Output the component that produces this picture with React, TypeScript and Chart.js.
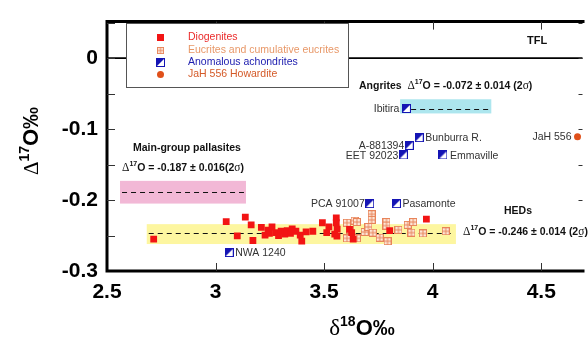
import React, { useEffect, useRef } from 'react';
import { Chart, registerables } from 'chart.js';
Chart.register(...registerables);

const diogenites: [number, number][] = [
  [2.715, -0.255], [3.049, -0.2305], [3.1, -0.2505], [3.137, -0.224], [3.164, -0.235], [3.172, -0.257],
  [3.211, -0.2386], [3.228, -0.2495], [3.242, -0.2423], [3.248, -0.247], [3.26, -0.238], [3.277, -0.246],
  [3.29, -0.25], [3.302, -0.244], [3.319, -0.248], [3.33, -0.243], [3.345, -0.247], [3.353, -0.2405],
  [3.37, -0.244], [3.39, -0.2495], [3.397, -0.258], [3.417, -0.245], [3.448, -0.244], [3.492, -0.232],
  [3.512, -0.246], [3.522, -0.2377], [3.549, -0.248], [3.556, -0.225], [3.556, -0.232], [3.56, -0.241],
  [3.559, -0.251], [3.617, -0.2414], [3.627, -0.246], [3.634, -0.255], [3.802, -0.243], [3.971, -0.2268],
];
const eucrites: [number, number][] = [
  [3.605, -0.232], [3.618, -0.242], [3.64, -0.229], [3.651, -0.231], [3.605, -0.254], [3.651, -0.254],
  [3.687, -0.245], [3.704, -0.238], [3.719, -0.22], [3.719, -0.228], [3.724, -0.246], [3.756, -0.253],
  [3.787, -0.231], [3.787, -0.236], [3.792, -0.258], [3.842, -0.242], [3.885, -0.235], [3.91, -0.231],
  [3.902, -0.246], [3.955, -0.247], [4.06, -0.244],
];
const anomalousNames = ['Ibitira', 'Bunburra R.', 'A-881394', 'EET 92023', 'Emmaville', 'PCA 91007', 'Pasamonte', 'NWA 1240'];
const anomalousX = [3.879, 3.938, 3.892, 3.865, 4.047, 3.71, 3.833, 3.063];
const anomalousY = [-0.071, -0.112, -0.123, -0.1365, -0.1365, -0.205, -0.205, -0.274];
const howarditeName = 'JaH 556';
const howardite: [number, number][] = [[4.667, -0.111]];
const xTicks = [2.5, 3, 3.5, 4, 4.5];
const xTickLabels = ['2.5', '3', '3.5', '4', '4.5'];
const yTicks = [0, -0.1, -0.2, -0.3];
const yTickLabels = ['0', '-0.1', '-0.2', '-0.3'];
const yMinorTicks = [0.05, 0, -0.05, -0.1, -0.15, -0.2, -0.25];
// bands: [xStart, xEnd, yLow, yHigh, yMean]
const angriteBand = [3.85, 4.27, -0.078, -0.058, -0.0715];
const pallasiteBand = [2.56, 3.14, -0.205, -0.173, -0.189];
const hedBand = [2.683, 4.107, -0.262, -0.234, -0.246];

const SANS = '"Liberation Sans", Arial, sans-serif';
const SERIF = '"Liberation Serif", "Times New Roman", serif';

function makeEucriteMarker() {
  const c = document.createElement('canvas');
  c.width = 8; c.height = 8;
  const g = c.getContext('2d')!;
  g.fillStyle = '#fde6d8';
  g.fillRect(0, 0, 8, 8);
  g.strokeStyle = '#e8845a';
  g.lineWidth = 1;
  g.strokeRect(0.5, 0.5, 7, 7);
  g.beginPath();
  g.moveTo(4, 0.5); g.lineTo(4, 7.5);
  g.moveTo(0.5, 4); g.lineTo(7.5, 4);
  g.stroke();
  return c;
}
function makeAnomMarker() {
  const c = document.createElement('canvas');
  c.width = 9; c.height = 9;
  const g = c.getContext('2d')!;
  g.fillStyle = '#ffffff';
  g.fillRect(0, 0, 9, 9);
  g.fillStyle = '#1414b4';
  g.beginPath();
  g.moveTo(0, 0); g.lineTo(9, 0); g.lineTo(0, 9); g.closePath();
  g.fill();
  g.strokeStyle = '#1414b4';
  g.lineWidth = 1;
  g.strokeRect(0.5, 0.5, 8, 8);
  return c;
}

type Part = { t: string; f: string; dy?: number };
function rich(ctx: CanvasRenderingContext2D, x: number, y: number, parts: Part[], align: 'left' | 'right' | 'center' = 'left') {
  let w = 0;
  for (const p of parts) { ctx.font = p.f; w += ctx.measureText(p.t).width; }
  let cx = align === 'left' ? x : align === 'right' ? x - w : x - w / 2;
  ctx.textAlign = 'left';
  for (const p of parts) {
    ctx.font = p.f;
    ctx.fillText(p.t, cx, y + (p.dy || 0));
    cx += ctx.measureText(p.t).width;
  }
}

function d17(prefix: string, rest: string, size = 10.5): Part[] {
  const b = `bold ${size}px ${SANS}`;
  const parts: Part[] = [];
  if (prefix) parts.push({ t: prefix, f: b });
  parts.push({ t: 'Δ', f: `${size + 1}px ${SERIF}` });
  parts.push({ t: '17', f: `bold ${size - 3.5}px ${SANS}`, dy: -4 });
  parts.push({ t: 'O = ' + rest + '(2', f: b });
  parts.push({ t: 'σ', f: `${size + 1}px ${SERIF}` });
  parts.push({ t: ')', f: b });
  return parts;
}

export default function App() {
  const ref = useRef<HTMLCanvasElement>(null);
  useEffect(() => {
    const eucM = makeEucriteMarker();
    const anoM = makeAnomMarker();
    const plugin = {
      id: 'decor',
      beforeDatasetsDraw(chart: any) {
        const { ctx, chartArea: a, scales } = chart;
        const xs = scales.x, ys = scales.y;
        ctx.save();
        const band = (b: number[], color: string) => {
          const x0 = xs.getPixelForValue(b[0]), x1 = xs.getPixelForValue(b[1]);
          const y0 = ys.getPixelForValue(b[3]), y1 = ys.getPixelForValue(b[2]);
          ctx.fillStyle = color;
          ctx.fillRect(x0, y0, x1 - x0, y1 - y0);
        };
        band(angriteBand, '#ade6ee');
        band(pallasiteBand, '#f2b8d6');
        band(hedBand, '#fdf6a0');
        const dash = (b: number[]) => {
          const y = Math.round(ys.getPixelForValue(b[4])) + 0.5;
          ctx.beginPath();
          ctx.setLineDash([5, 4]);
          ctx.strokeStyle = '#111';
          ctx.lineWidth = 1.2;
          ctx.moveTo(xs.getPixelForValue(b[0]) + 2, y);
          ctx.lineTo(xs.getPixelForValue(b[1]) - 2, y);
          ctx.stroke();
        };
        dash(angriteBand); dash(pallasiteBand); dash(hedBand);
        ctx.setLineDash([]);
        // TFL line
        const y0 = ys.getPixelForValue(0);
        ctx.strokeStyle = '#000';
        ctx.lineWidth = 1.6;
        ctx.beginPath(); ctx.moveTo(a.left, y0); ctx.lineTo(a.right, y0); ctx.stroke();
        ctx.restore();
      },
      afterDatasetsDraw(chart: any) {
        const { ctx, chartArea: a, scales } = chart;
        const xs = scales.x, ys = scales.y;
        ctx.save();
        // frame
        ctx.strokeStyle = '#000';
        ctx.lineWidth = 3;
        ctx.beginPath();
        ctx.moveTo(a.right + 2, a.top); ctx.lineTo(a.left, a.top); ctx.lineTo(a.left, a.bottom); ctx.lineTo(a.right + 2, a.bottom);
        ctx.stroke();
        ctx.lineWidth = 1;
        ctx.strokeStyle = '#333';
        ctx.beginPath();
        for (const v of yMinorTicks) {
          const y = Math.round(ys.getPixelForValue(v)) + 0.5;
          ctx.moveTo(a.left, y); ctx.lineTo(a.left + 8, y);
          ctx.moveTo(a.right - 4, y); ctx.lineTo(a.right, y);
        }
        for (const v of xTicks.slice(1)) {
          const x = Math.round(xs.getPixelForValue(v)) + 0.5;
          ctx.moveTo(x, a.top); ctx.lineTo(x, a.top + 8);
          ctx.moveTo(x, a.bottom); ctx.lineTo(x, a.bottom - 8);
        }
        ctx.stroke();

        ctx.textBaseline = 'middle';
        // legend
        const lx0 = 126, ly0 = 23, lx1 = 348, ly1 = 87;
        ctx.fillStyle = '#fff';
        ctx.fillRect(lx0, ly0, lx1 - lx0, ly1 - ly0);
        ctx.strokeStyle = '#555';
        ctx.lineWidth = 1;
        ctx.strokeRect(lx0 + 0.5, ly0 + 0.5, lx1 - lx0, ly1 - ly0);
        const rows = [
          { t: 'Diogenites', c: '#ea2a2a', y: 37 },
          { t: 'Eucrites and cumulative eucrites', c: '#e89868', y: 50 },
          { t: 'Anomalous achondrites', c: '#2020b0', y: 62 },
          { t: 'JaH 556 Howardite', c: '#d45a28', y: 74 },
        ];
        ctx.font = `10.5px ${SANS}`;
        rows.forEach((r, i) => {
          ctx.fillStyle = r.c;
          ctx.textAlign = 'left';
          ctx.fillText(r.t, 188, r.y);
          const mx = 160;
          if (i === 0) { ctx.fillStyle = '#f21414'; ctx.fillRect(mx - 3, r.y - 3, 7, 7); }
          if (i === 1) ctx.drawImage(eucM, mx - 3, r.y - 3, 7, 7);
          if (i === 2) ctx.drawImage(anoM, mx - 4, r.y - 4, 9, 9);
          if (i === 3) { ctx.fillStyle = '#e0501a'; ctx.beginPath(); ctx.arc(mx + 0.5, r.y + 0.5, 3.5, 0, Math.PI * 2); ctx.fill(); }
        });

        // point labels
        ctx.fillStyle = '#333';
        ctx.font = `10.5px ${SANS}`;
        const sides: Record<string, number> = {
          'Ibitira': -7, 'Bunburra R.': 6, 'A-881394': -5, 'EET 92023': -5, 'Emmaville': 7,
          'PCA 91007': -5, 'Pasamonte': 6, 'NWA 1240': 6,
        };
        anomalousNames.forEach((n, i) => {
          const px = xs.getPixelForValue(anomalousX[i]);
          const py = ys.getPixelForValue(anomalousY[i]);
          const off = sides[n];
          ctx.textAlign = off < 0 ? 'right' : 'left';
          ctx.fillText(n, px + off, py + 1);
        });
        {
          const px = xs.getPixelForValue(howardite[0][0]);
          const py = ys.getPixelForValue(howardite[0][1]);
          ctx.textAlign = 'right';
          ctx.fillText(howarditeName, px - 6, py);
        }

        // annotations
        ctx.fillStyle = '#111';
        ctx.textAlign = 'left';
        ctx.font = `bold 11px ${SANS}`;
        ctx.fillText('TFL', 527, 41);
        rich(ctx, 359, 86, d17('Angrites  ', '-0.072 ± 0.014 '));
        ctx.font = `bold 10.5px ${SANS}`;
        ctx.fillText('Main-group pallasites', 133, 148);
        rich(ctx, 122, 168, d17('', '-0.187 ± 0.016'));
        ctx.font = `bold 10.5px ${SANS}`;
        ctx.fillText('HEDs', 504, 211);
        rich(ctx, 463, 232, d17('', '-0.246 ± 0.014 '));

        // axis titles
        ctx.fillStyle = '#000';
        ctx.textBaseline = 'alphabetic';
        rich(ctx, 362, 335, [
          { t: 'δ', f: `23px ${SERIF}` },
          { t: '18', f: `bold 14px ${SANS}`, dy: -9 },
          { t: 'O‰', f: `bold 22px ${SANS}` },
        ], 'center');
        ctx.save();
        ctx.translate(38, 141);
        ctx.rotate(-Math.PI / 2);
        rich(ctx, 0, 0, [
          { t: 'Δ', f: `21px ${SERIF}` },
          { t: '17', f: `bold 14px ${SANS}`, dy: -9 },
          { t: 'O‰', f: `bold 22px ${SANS}` },
        ], 'center');
        ctx.restore();
        ctx.restore();
      },
    };

    const chart = new Chart(ref.current!, {
      type: 'scatter',
      data: {
        datasets: [
          {
            label: 'Diogenites',
            data: diogenites.map(([x, y]) => ({ x, y })),
            pointStyle: 'rect', pointRadius: 4.8, backgroundColor: '#f21414', borderColor: '#f21414', borderWidth: 0,
          },
          {
            label: 'Eucrites and cumulative eucrites',
            data: eucrites.map(([x, y]) => ({ x, y })),
            pointStyle: eucM as any, pointRadius: 4,
          },
          {
            label: 'Anomalous achondrites',
            data: anomalousX.map((x, i) => ({ x, y: anomalousY[i] })),
            pointStyle: anoM as any, pointRadius: 4.5,
          },
          {
            label: 'JaH 556 Howardite',
            data: howardite.map(([x, y]) => ({ x, y })),
            pointStyle: 'circle', pointRadius: 3.5, backgroundColor: '#e0501a', borderColor: '#e0501a', borderWidth: 0,
          },
        ],
      },
      options: {
        responsive: false,
        animation: false,
        devicePixelRatio: 1,
        layout: { padding: { top: 11, right: 0, left: 0, bottom: 0 } },
        plugins: { legend: { display: false }, tooltip: { enabled: false } },
        scales: {
          x: {
            type: 'linear', min: 2.5, max: 4.69,
            grid: { display: false, drawTicks: false }, border: { display: false },
            ticks: {
              color: '#000', padding: 9, font: { family: SANS, size: 21, weight: 'bold' },
              callback: (v: any) => { const i = xTicks.indexOf(Number(v)); return i >= 0 ? xTickLabels[i] : ''; },
            },
            afterBuildTicks: (s: any) => { s.ticks = xTicks.map((v) => ({ value: v })); },
            afterFit: (s: any) => { s.height = 72; },
          },
          y: {
            type: 'linear', min: -0.3, max: 0.0514,
            grid: { display: false, drawTicks: false }, border: { display: false },
            ticks: {
              color: '#000', padding: 9, font: { family: SANS, size: 21, weight: 'bold' },
              callback: (v: any) => { const i = yTicks.indexOf(Number(v)); return i >= 0 ? yTickLabels[i] : ''; },
            },
            afterBuildTicks: (s: any) => { s.ticks = yTicks.map((v) => ({ value: v })); },
            afterFit: (s: any) => { s.width = 107; },
          },
        },
      } as any,
      plugins: [plugin],
    });
    return () => chart.destroy();
  }, []);
  return (
    <div style={{ position: 'fixed', left: 0, top: 0, width: 588, height: 343, background: '#fff' }}>
      <canvas ref={ref} width={588} height={343} style={{ display: 'block' }} />
    </div>
  );
}
